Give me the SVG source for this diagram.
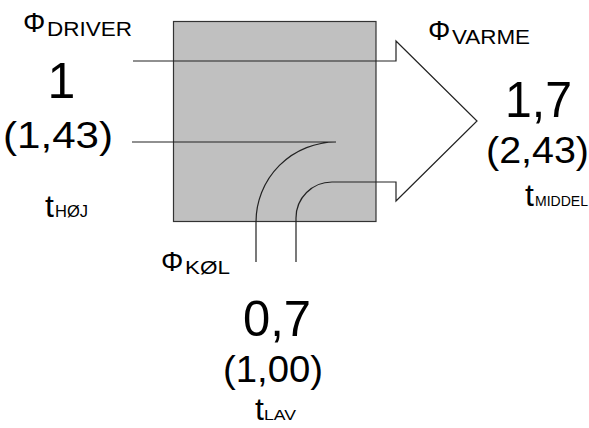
<svg xmlns="http://www.w3.org/2000/svg" width="589" height="428" viewBox="0 0 589 428">
<style>
text{font-family:"Liberation Sans",Arial,Helvetica,sans-serif;fill:#000}
.ln{fill:none;stroke:#222;stroke-width:1.2}
.phi{font-size:28px}
.big{font-size:50px}
.mid{font-size:36px}
.t{font-size:32px}
</style>
<rect width="589" height="428" fill="#fff"/>
<g id="box">
<rect x="173.5" y="21.5" width="202.5" height="200" fill="#c0c0c0" stroke="#333" stroke-width="1.2"/>
</g>
<g id="connectors">
<path class="ln" d="M133,61 H396 V41 L477,121 L396,201 V182 H332 A36,36 0 0 0 296,218 V262"/>
<path class="ln" d="M132,142 H336 A80,80 0 0 0 256,222 V262"/>
</g>
<g id="driver">
<text class="phi" x="23" y="32">Φ</text>
<text x="47" y="36" font-size="21" textLength="85" lengthAdjust="spacingAndGlyphs">DRIVER</text>
<text class="big" x="61.5" y="98" text-anchor="middle">1</text>
<text class="mid" x="3" y="148" textLength="110" lengthAdjust="spacingAndGlyphs">(1,43)</text>
<text class="t" x="45" y="217">t</text>
<text x="55" y="217" font-size="16" textLength="33" lengthAdjust="spacingAndGlyphs">HØJ</text>
</g>
<g id="varme">
<text class="phi" x="428" y="40">Φ</text>
<text x="452" y="44" font-size="20.5" textLength="78" lengthAdjust="spacingAndGlyphs">VARME</text>
<text class="big" x="505" y="117" textLength="67" lengthAdjust="spacingAndGlyphs">1,7</text>
<text class="mid" x="486" y="163" textLength="103" lengthAdjust="spacingAndGlyphs">(2,43)</text>
<text class="t" x="525" y="206">t</text>
<text x="535" y="206" font-size="14" textLength="53" lengthAdjust="spacingAndGlyphs">MIDDEL</text>
</g>
<g id="kol">
<text class="phi" x="161" y="271">Φ</text>
<text x="185" y="274" font-size="18" textLength="45" lengthAdjust="spacingAndGlyphs">KØL</text>
<text class="big" x="243" y="336" textLength="68" lengthAdjust="spacingAndGlyphs">0,7</text>
<text class="mid" x="223" y="382" textLength="100" lengthAdjust="spacingAndGlyphs">(1,00)</text>
<text class="t" x="255" y="420">t</text>
<text x="264" y="420" font-size="15" textLength="32" lengthAdjust="spacingAndGlyphs">LAV</text>
</g>
</svg>
